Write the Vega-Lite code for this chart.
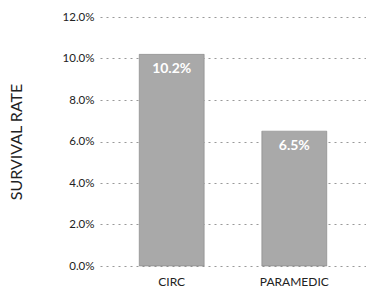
{
  "$schema": "https://vega.github.io/schema/vega-lite/v6.json",
  "autosize": "none",
  "width": 266,
  "height": 249,
  "padding": {"left": 100, "top": 17, "right": 0, "bottom": 32},
  "background": "white",
  "data": {"values": [
    {"group": "CIRC", "rate": 0.102},
    {"group": "PARAMEDIC", "rate": 0.065}
  ]},
  "config": {"view": {"stroke": null}, "font": "Lato"},
  "encoding": {
    "x": {"field": "group", "type": "nominal", "sort": null,
      "scale": {"paddingInner": 0.47, "paddingOuter": 0.32},
      "axis": {"title": null, "labelAngle": 0, "labelFontSize": 12, "labelColor": "#222", "labelPadding": 10, "ticks": false, "domain": false, "labelFont": "Lato"}},
    "y": {"field": "rate", "type": "quantitative",
      "scale": {"domain": [0, 0.12]},
      "axis": {"title": "SURVIVAL RATE", "format": ".1%", "values": [0, 0.02, 0.04, 0.06, 0.08, 0.1, 0.12],
        "grid": true, "gridDash": [2, 4], "gridColor": "#999", "gridWidth": 1,
        "domain": false, "ticks": false, "labelPadding": 6, "labelFontSize": 11.5, "labelColor": "#222",
        "titleFontSize": 16, "titleFontWeight": "normal", "titleColor": "#222", "titlePadding": 38}}
  },
  "layer": [
    {"mark": {"type": "bar", "color": "#a9a9a9", "stroke": "#777", "strokeWidth": 0.5}},
    {"mark": {"type": "text", "color": "white", "fontSize": 14, "fontWeight": "bold", "baseline": "top", "dy": 8},
      "encoding": {"text": {"field": "rate", "type": "quantitative", "format": ".1%"}}}
  ]
}
